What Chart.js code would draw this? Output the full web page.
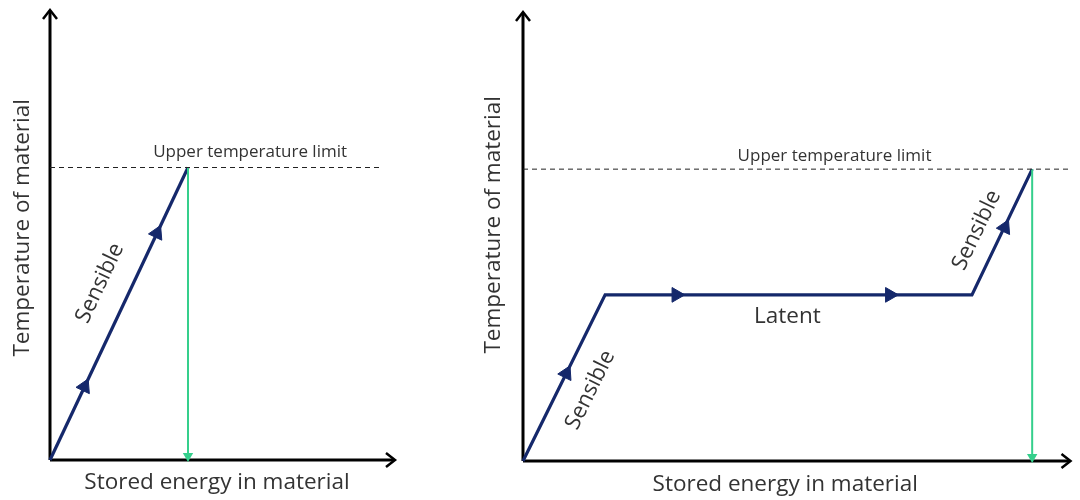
<!DOCTYPE html>
<html lang="en">
<head>
    <meta charset="UTF-8">
    <title>Sensible and latent heat storage</title>
    <script src="https://cdn.jsdelivr.net/npm/chart.js"></script>
    <style>
        body {
            margin: 0;
            background: #ffffff;
        }
        .wrap {
            position: relative;
            width: 1080px;
            height: 500px;
        }
        canvas {
            position: absolute;
            top: 0;
        }
        #leftChart { left: 0; }
        #rightChart { left: 470px; }
    </style>
</head>
<body>
    <div class="wrap">
        <canvas id="leftChart" width="470" height="500"></canvas>
        <canvas id="rightChart" width="610" height="500"></canvas>
    </div>

    <script>
        // values (axis units 0..100)
        const upperLimit = 65;
        const leftEnergy = [0, 40];
        const leftTemp = [0, 65];
        const leftArrowEnergy = [10, 31];
        const leftArrowTemp = [16.3, 50.4];
        const leftLimitEnd = 95.6;

        const rightEnergy = [0, 15, 82, 93];
        const rightTemp = [0, 37, 37, 65];
        const rightArrowEnergy = [7.9, 28, 67, 88];
        const rightArrowTemp = [19.5, 37, 37, 52];
        const rightLimitEnd = 99.6;

        const limitLabel = 'Upper temperature limit';
        const xTitle = 'Stored energy in material';
        const yTitle = 'Temperature of material';

        const navy = '#15286b';
        const green = '#35cf8c';
        const textColor = '#333333';
        const fontFamily = '"Open Sans", sans-serif';

        function pts(xs, ys) {
            return xs.map((v, i) => ({ x: v, y: ys[i] }));
        }

        // angle (radians, counter-clockwise on screen) of the path segment holding value x
        function segAngle(chart, xs, ys, xv) {
            let i = 0;
            while (i < xs.length - 2 && xv > xs[i + 1]) i++;
            const sx = chart.scales.x, sy = chart.scales.y;
            const dx = sx.getPixelForValue(xs[i + 1]) - sx.getPixelForValue(xs[i]);
            const dy = sy.getPixelForValue(ys[i + 1]) - sy.getPixelForValue(ys[i]);
            return Math.atan2(-dy, dx);
        }

        const diagram = {
            id: 'diagram',
            beforeDatasetsDraw(chart) {
                const { ctx, scales: { x, y } } = chart;
                const x0 = x.getPixelForValue(0), y0 = y.getPixelForValue(0);
                const x1 = x.getPixelForValue(x.max), y1 = y.getPixelForValue(y.max);
                ctx.save();
                ctx.strokeStyle = '#000';
                ctx.lineWidth = 3;
                ctx.beginPath();
                ctx.moveTo(x0, y0); ctx.lineTo(x1 - 1, y0);
                ctx.moveTo(x0, y0); ctx.lineTo(x0, y1 + 1);
                ctx.stroke();
                ctx.lineWidth = 2.5;
                ctx.beginPath();
                ctx.moveTo(x1 - 9, y0 - 7); ctx.lineTo(x1, y0); ctx.lineTo(x1 - 9, y0 + 7);
                ctx.moveTo(x0 - 7, y1 + 9); ctx.lineTo(x0, y1); ctx.lineTo(x0 + 7, y1 + 9);
                ctx.stroke();
                ctx.restore();
            },
            afterDatasetsDraw(chart, args, opts) {
                const { ctx, scales: { x, y } } = chart;
                ctx.save();
                ctx.fillStyle = textColor;
                ctx.textAlign = 'center';
                ctx.textBaseline = 'middle';
                (opts.notes || []).forEach(n => {
                    ctx.save();
                    ctx.translate(x.getPixelForValue(n.x), y.getPixelForValue(n.y));
                    let a = 0;
                    if (n.vertical) a = Math.PI / 2;
                    if (n.along) a = segAngle(chart, n.along[0], n.along[1], n.x);
                    ctx.rotate(-a);
                    ctx.font = n.size + 'px ' + fontFamily;
                    ctx.fillText(n.text, 0, 0);
                    ctx.restore();
                });
                ctx.restore();
            }
        };

        function makePanel(id, energy, temp, arrowE, arrowT, limitEnd, pad, notes) {
            const arrowRotation = c => {
                if (!c.raw) return 0;
                return 90 - segAngle(c.chart, energy, temp, c.raw.x) * 180 / Math.PI;
            };
            const dropX = energy[energy.length - 1];
            return new Chart(document.getElementById(id), {
                type: 'scatter',
                data: {
                    datasets: [
                        {
                            data: [{ x: 0, y: upperLimit }, { x: limitEnd, y: upperLimit }],
                            showLine: true,
                            borderColor: '#222',
                            borderWidth: 1,
                            borderDash: [5, 4],
                            pointRadius: 0
                        },
                        {
                            data: [{ x: dropX, y: upperLimit }, { x: dropX, y: 0.9 }],
                            showLine: true,
                            borderColor: green,
                            borderWidth: 2,
                            pointRadius: [0, 4],
                            pointStyle: 'triangle',
                            rotation: 180,
                            backgroundColor: green,
                            pointBorderColor: green
                        },
                        {
                            data: pts(energy, temp),
                            showLine: true,
                            borderColor: navy,
                            borderWidth: 3.2,
                            borderJoinStyle: 'miter',
                            pointRadius: 0
                        },
                        {
                            data: pts(arrowE, arrowT),
                            pointStyle: 'triangle',
                            pointRadius: 8.5,
                            rotation: arrowRotation,
                            backgroundColor: navy,
                            borderColor: navy,
                            borderWidth: 1
                        }
                    ]
                },
                options: {
                    responsive: false,
                    animation: false,
                    events: [],
                    layout: { padding: pad },
                    scales: {
                        x: { type: 'linear', min: 0, max: 100, display: false },
                        y: { type: 'linear', min: 0, max: 100, display: false }
                    },
                    elements: { line: { tension: 0 } },
                    datasets: { scatter: { clip: false } },
                    plugins: {
                        legend: { display: false },
                        tooltip: { enabled: false },
                        diagram: { notes: notes }
                    }
                },
                plugins: [diagram]
            });
        }

        makePanel('leftChart', leftEnergy, leftTemp, leftArrowEnergy, leftArrowTemp, leftLimitEnd,
            { left: 50, right: 75, top: 10, bottom: 40 },
            [
                { text: 'Sensible', x: 14.5, y: 39.3, size: 22, along: [leftEnergy, leftTemp] },
                { text: limitLabel, x: 58, y: 68.4, size: 17 },
                { text: xTitle, x: 48.4, y: -5.1, size: 22.5 },
                { text: yTitle, x: -7.8, y: 51.6, size: 22.5, vertical: true }
            ]);

        makePanel('rightChart', rightEnergy, rightTemp, rightArrowEnergy, rightArrowTemp, rightLimitEnd,
            { left: 53, right: 2, top: 12, bottom: 39 },
            [
                { text: 'Sensible', x: 12.3, y: 15.8, size: 22, along: [rightEnergy, rightTemp] },
                { text: 'Latent', x: 48.3, y: 32.1, size: 22.5 },
                { text: 'Sensible', x: 82.9, y: 51.4, size: 22, along: [rightEnergy, rightTemp] },
                { text: limitLabel, x: 56.9, y: 67.9, size: 17 },
                { text: xTitle, x: 47.9, y: -5.3, size: 22.5 },
                { text: yTitle, x: -5.4, y: 52.6, size: 22.5, vertical: true }
            ]);
    </script>
</body>
</html>
